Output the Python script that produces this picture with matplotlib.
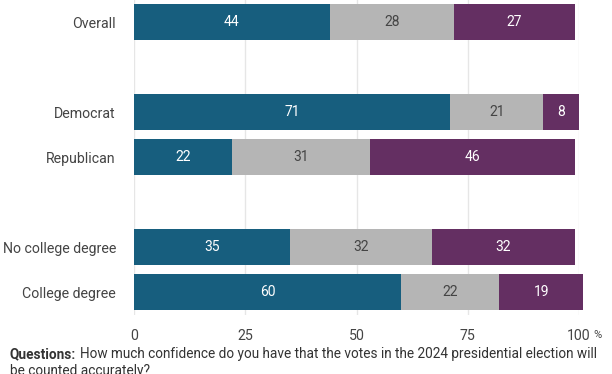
import numpy as np
import matplotlib.pyplot as plt

plt.rcParams['font.family'] = ['Roboto', 'DejaVu Sans']

groups = ["Overall", "Democrat", "Republican", "No college degree", "College degree"]
positions = [0, 2, 3, 5, 6]
high = [44, 71, 22, 35, 60]
some = [28, 21, 31, 32, 22]
low = [27, 8, 46, 32, 19]

colors = ["#175e7e", "#b5b5b5", "#642f62"]
text_colors = ["white", "#444444", "white"]
ticks = [0, 25, 50, 75, 100]

fig = plt.figure(figsize=(6.12, 3.74), dpi=100)
ax = fig.add_axes([134 / 612, 1 - 315 / 374, 445 / 612, 315 / 374])

left = np.zeros(len(groups))
for vals, col, tcol in zip([high, some, low], colors, text_colors):
    vals = np.array(vals, dtype=float)
    ax.barh(positions, vals, left=left, height=0.8, color=col, clip_on=False, zorder=2)
    for p, l, v in zip(positions, left, vals):
        ax.text(l + v / 2, p, f"{v:.0f}", ha="center", va="center",
                color=tcol, fontsize=10, zorder=3)
    left += vals

ax.set_xlim(0, 100)
ax.set_ylim(6.51, -0.49)
ax.set_xticks(ticks)
ax.set_xticklabels([str(t) for t in ticks])
ax.set_yticks(positions)
ax.set_yticklabels(groups)
ax.tick_params(axis="both", length=0, labelsize=10.2, labelcolor="#444444")
ax.tick_params(axis="x", pad=10)
ax.tick_params(axis="y", pad=13)
ax.grid(axis="x", color="#e6e6e6", linewidth=1, zorder=0)
ax.set_axisbelow(True)
for s in ax.spines.values():
    s.set_visible(False)

fig.text(593 / 612, 1 - 335 / 374, "%", fontsize=8, color="#444444", va="center")

t1 = fig.text(10 / 612, 1 - 354 / 374, "Questions:", fontsize=9.8, fontweight="bold",
              color="#333333", va="center")
fig.canvas.draw()
bb = t1.get_window_extent()
fig.text((bb.x1 + 4) / 612, 1 - 354 / 374,
         "How much confidence do you have that the votes in the 2024 presidential election will",
         fontsize=9.8, color="#333333", va="center")
fig.text(10 / 612, 1 - 371 / 374, "be counted accurately?", fontsize=9.8,
         color="#333333", va="center")

fig.savefig("out.png", dpi=100)
